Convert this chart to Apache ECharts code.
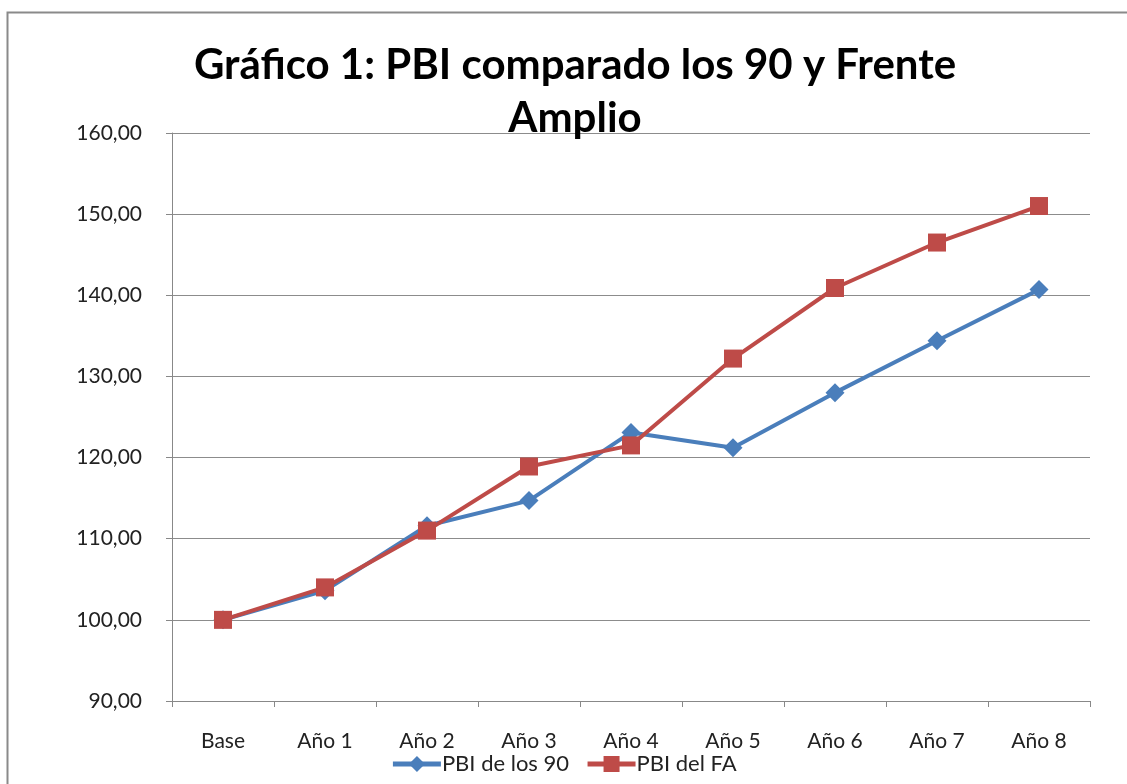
<!DOCTYPE html>
<html><head><meta charset="utf-8">
<script src="https://cdn.jsdelivr.net/npm/echarts@6/dist/echarts.min.js"></script>
<style>html,body{margin:0;padding:0;background:#fff}#c{width:1127px;height:784px}</style>
</head><body><div id="c"></div>
<script>
const categories = ["Base","Año 1","Año 2","Año 3","Año 4","Año 5","Año 6","Año 7","Año 8"];
const pbi90 = [100.0, 103.6, 111.6, 114.7, 123.1, 121.2, 128.0, 134.4, 140.7];
const pbiFA = [100.0, 104.0, 111.0, 118.9, 121.5, 132.2, 140.9, 146.5, 151.0];
const seriesNames = ["PBI de los 90", "PBI del FA"];
const titleText = "Gráfico 1: PBI comparado los 90 y Frente\nAmplio";

const font = "Lato, 'Liberation Sans', sans-serif";
const chart = echarts.init(document.getElementById('c'), null, {renderer:'canvas'});
chart.setOption({
  backgroundColor: '#fff',
  animation: false,
  graphic: [{type:'rect', shape:{x:7.5, y:12.5, width:1130, height:790}, style:{fill:'none', stroke:'#8a8a8a', lineWidth:2}}],
  title: {
    text: titleText, left: 570, top: 34, textAlign: 'center',
    textStyle: {fontFamily: font, fontWeight: 'bold', fontSize: 42, color: '#000', lineHeight: 53}
  },
  legend: {
    bottom: 4, left: 'center', itemGap: 16, itemWidth: 48, itemHeight: 20,
    lineStyle: {width: 5},
    textStyle: {fontFamily: font, fontSize: 22, color: '#222', padding:[0,0,0,-4]},
    data: seriesNames
  },
  grid: {left: 172, right: 37, top: 133, bottom: 83},
  xAxis: {
    type: 'category', data: categories, boundaryGap: true,
    axisLine: {lineStyle: {color: '#888', width: 1}},
    axisTick: {show: true, length: 6, lineStyle: {color: '#888'}},
    axisLabel: {fontFamily: font, fontSize: 21, color: '#222', margin: 30}
  },
  yAxis: {
    type: 'value', min: 90, max: 160, interval: 10,
    axisLine: {show: true, lineStyle: {color: '#888'}},
    axisTick: {show: true, length: 6, lineStyle: {color: '#888'}},
    splitLine: {lineStyle: {color: '#8c8c8c', width: 1}},
    axisLabel: {fontFamily: font, fontSize: 21, color: '#222', margin: 30,
      formatter: v => v.toFixed(2).replace('.', ',')}
  },
  series: [
    {name: seriesNames[0], type: 'line', data: pbi90, symbol: 'diamond', symbolSize: 19,
     lineStyle: {color: '#4a7ebb', width: 4}, itemStyle: {color: '#4a7ebb'}, z: 2},
    {name: seriesNames[1], type: 'line', data: pbiFA, symbol: 'rect', symbolSize: 18,
     lineStyle: {color: '#be4b48', width: 4}, itemStyle: {color: '#be4b48'}, z: 3}
  ]
});
</script></body></html>
